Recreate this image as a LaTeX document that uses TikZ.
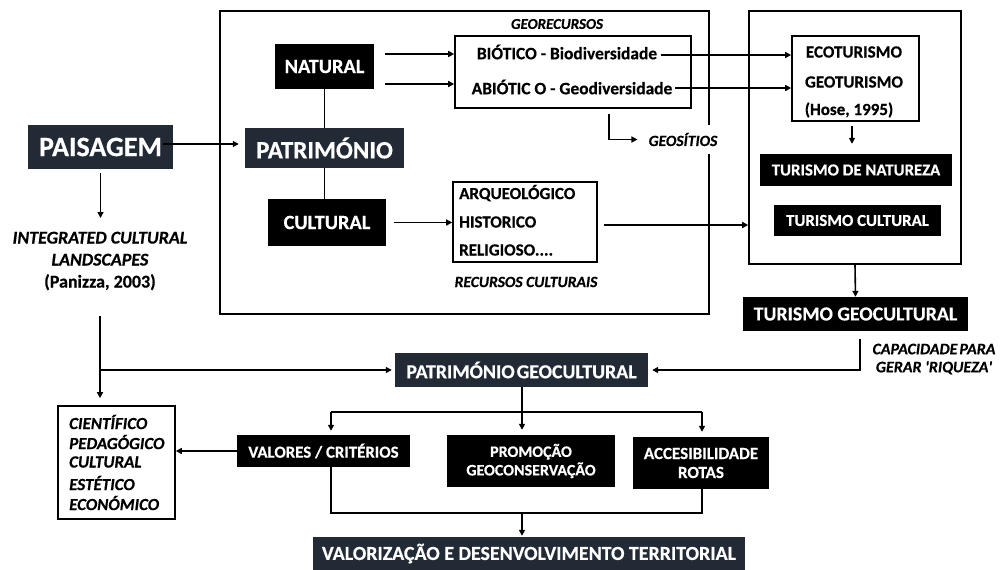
\documentclass[tikz,border=0pt]{standalone}
\usepackage{fontspec}
\setmainfont{Carlito}[BoldFeatures={FakeBold=0.5},BoldItalicFeatures={FakeBold=0.5}]
\usetikzlibrary{arrows.meta}
\definecolor{slate}{RGB}{34,42,53}
\newcommand{\fs}[1]{\fontsize{#1}{#1}\selectfont}
\tikzset{
  lw/.style={line width=1.6pt},
  arr/.style={lw,-{Triangle[length=6pt,width=6pt]}},
  bx/.style={draw,lw,inner sep=0pt},
  blk/.style={fill=black,text=white,inner sep=0pt,align=center,font=\bfseries\fs{16.8}},
  sl/.style={fill=slate,text=white,inner sep=0pt,align=center,font=\bfseries\fs{19.8}},
  lbl/.style={inner sep=0pt,font=\bfseries\fs{17}},
  ilbl/.style={inner sep=0pt,font=\bfseries\itshape\fs{15.6}},
  cl/.style={inner sep=0pt,anchor=west,font=\bfseries\itshape\fs{17}},
}
\begin{document}
\begin{tikzpicture}[x=1pt,y=-1pt]
\useasboundingbox (0,0) rectangle (1002,570);
% big frames
\node[bx,minimum width=489pt,minimum height=303pt] (box1) at (464.5,162.5) {};
\node[bx,minimum width=212pt,minimum height=253pt] (box2) at (855,137.5) {};
% left column
\node[sl,font=\bfseries\fs{28},minimum width=145pt,minimum height=44pt] (pais) at (100.5,147) {PAISAGEM};
\node[lbl,align=center,font=\bfseries\fontsize{18}{22}\selectfont] (intc) at (100,261) {\textit{INTEGRATED CULTURAL}\\\textit{LANDSCAPES}\\(Panizza, 2003)};
% patrimonio group
\node[sl,font=\bfseries\fs{25},minimum width=159pt,minimum height=40pt] (patr) at (324.5,148) {PATRIMÓNIO};
\node[blk,font=\bfseries\fs{20.3},minimum width=99pt,minimum height=45pt] (nat) at (324.5,66.5) {NATURAL};
\node[blk,font=\bfseries\fs{20.3},minimum width=118pt,minimum height=47pt] (cult) at (327,222.5) {CULTURAL};
% georecursos
\node[ilbl,font=\bfseries\itshape\fs{15}] (georec) at (557,24) {GEORECURSOS};
\node[bx,minimum width=236pt,minimum height=72pt] (biobox) at (573,72) {};
\node[lbl,font=\bfseries\fs{17.4}] (biot) at (567,52) {BIÓTICO - Biodiversidade};
\node[lbl,font=\bfseries\fs{17.4}] (abiot) at (572,87) {ABIÓTIC O - Geodiversidade};
\node[ilbl,fill=white,inner xsep=2pt,minimum height=29pt] (geos) at (683,139.5) {GEOSÍTIOS};
\coordinate (gs) at (609,114);
% cultural resources
\node[bx,minimum width=144pt,minimum height=80pt] (arqbox) at (525,222) {};
\node[lbl,anchor=west] (arq) at (459,193) {ARQUEOLÓGICO};
\node[lbl,anchor=west] (hist) at (459,222) {HISTORICO};
\node[lbl,anchor=west] (rel) at (459,250) {RELIGIOSO....};
\node[ilbl] (reccult) at (526,282) {RECURSOS CULTURAIS};
% tourism
\node[bx,minimum width=127pt,minimum height=85pt] (ecobox) at (855.5,78.5) {};
\node[lbl] (eco) at (854,52) {ECOTURISMO};
\node[lbl] (geot) at (854,82) {GEOTURISMO};
\node[lbl] (hose) at (849,110) {(Hose, 1995)};
\node[blk,minimum width=192pt,minimum height=32pt] (tnat) at (856,170) {TURISMO DE NATUREZA};
\node[blk,minimum width=167pt,minimum height=31pt] (tcult) at (857.5,220.5) {TURISMO CULTURAL};
\node[blk,font=\bfseries\fs{19.8},minimum width=225pt,minimum height=34pt] (tgeo) at (855.5,314) {TURISMO GEOCULTURAL};
\node[ilbl,align=center,font=\bfseries\itshape\fontsize{16}{18}\selectfont] (cap) at (934,359) {CAPACIDADE\hspace{2pt}PARA\\GERAR \textquotesingle RIQUEZA\textquotesingle};
% lower part
\node[sl,minimum width=253pt,minimum height=34pt] (pgeo) at (521.5,370) {PATRIMÓNIO\hspace{2pt}GEOCULTURAL};
\node[bx,minimum width=117pt,minimum height=113pt] (cient) at (116.5,462.5) {};
\node[cl] (c1t) at (69,422) {CIENTÍFICO};
\node[cl] (c2t) at (69,442) {PEDAGÓGICO};
\node[cl] (c3t) at (69,462) {CULTURAL};
\node[cl] (c4t) at (69,483) {ESTÉTICO};
\node[cl] (c5t) at (69,503) {ECONÓMICO};
\node[blk,minimum width=173pt,minimum height=32pt] (val) at (323.5,451) {VALORES / CRITÉRIOS};
\node[blk,font=\bfseries\fontsize{16}{18.5}\selectfont,minimum width=168pt,minimum height=52pt] (promo) at (531,461) {PROMOÇÃO\\GEOCONSERVAÇÃO};
\node[blk,font=\bfseries\fontsize{17}{19}\selectfont,minimum width=136pt,minimum height=52pt] (acc) at (701,463) {ACCESIBILIDADE\\ROTAS};
\node[sl,font=\bfseries\fs{19.9},minimum width=432pt,minimum height=33pt] (valz) at (529,553.5) {VALORIZAÇÃO E DESENVOLVIMENTO TERRITORIAL};
% coordinates
\coordinate (pe) at (163,144);
\coordinate (pd) at (100.5,218);
\coordinate (n1) at (385,54);
\coordinate (n2) at (385,84);
\coordinate (ex) at (852,0);
\coordinate (lc) at (100,316);
\coordinate (tc) at (860,339);
\coordinate (fl) at (331,412);
\coordinate (fm) at (522,412);
\coordinate (fr) at (702,412);
\coordinate (bl) at (331,513);
\coordinate (bm) at (522,513);
\coordinate (br) at (702,513);
% connectors
\draw[arr] (pe) -- ([xshift=-6pt]patr.west |- pe);
\draw[arr] ([yshift=-4pt]pais.south) -- (pd);
\draw[lw] (nat.south) -- (nat.south |- patr.north);
\draw[lw] (nat.south |- patr.south) -- (nat.south |- cult.north);
\draw[arr] (n1) -- (biobox.west |- n1);
\draw[arr] (n2) -- (biobox.west |- n2);
\draw[arr] ([xshift=4pt,yshift=-3pt]biot.east) -- ([yshift=-3pt]ecobox.west |- biot.east);
\draw[arr] ([xshift=3pt,yshift=-1pt]abiot.east) -- ([yshift=-1pt]ecobox.west |- abiot.east);
\draw[arr] (gs) |- ([xshift=-9pt]geos.west);
\draw[arr] ([xshift=8pt]cult.east) -- (arqbox.west |- cult.east);
\draw[arr] ([xshift=6pt,yshift=-3pt]arqbox.east) -- ([yshift=-3pt]box2.west |- arqbox.east);
\draw[arr] ([yshift=-4pt]ecobox.south -| ex) -- ([yshift=10pt]tnat.north -| ex);
\draw[arr] (box2.south) -- (tgeo.north);
\draw[arr] (tc) |- ([xshift=4pt]pgeo.east);
\draw[arr] (lc) -- ([yshift=7pt]cient.north -| lc);
\draw[arr] (lc |- pgeo.west) -- ([xshift=-3pt]pgeo.west);
\draw[arr] (pgeo.south -| fm) -- ([yshift=5pt]promo.north -| fm);
\draw[lw] (fl) -- (fr);
\draw[arr] (fl) -- ([yshift=4pt]val.north -| fl);
\draw[arr] (fr) -- ([yshift=5pt]acc.north -| fr);
\draw[arr] (val.west) -- (cient.east |- val.west);
\draw[lw] (val.south -| bl) -- (bl) -- (br) -- (acc.south -| br);
\draw[arr] (bm) -- ([yshift=1pt]valz.north -| bm);
\end{tikzpicture}
\end{document}
